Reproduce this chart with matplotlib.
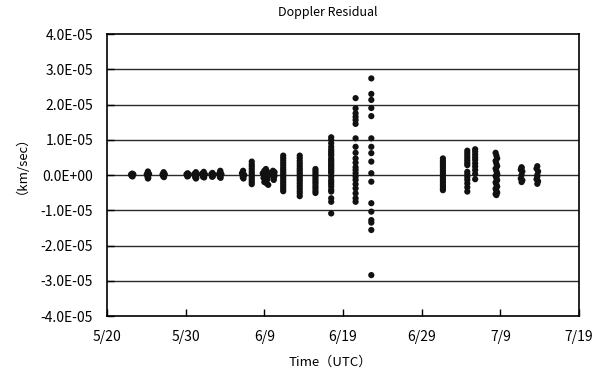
import matplotlib
matplotlib.use("Agg")
import matplotlib.pyplot as plt
from matplotlib.ticker import FuncFormatter

plt.rcParams['font.family'] = ['Noto Sans CJK JP', 'DejaVu Sans']

# x: days since 5/20 (UTC); y: residual in units of 1e-5 km/sec
x_tick_days = [0, 10, 20, 30, 40, 50, 60]
x_tick_labels = ["5/20", "5/30", "6/9", "6/19", "6/29", "7/9", "7/19"]
y_ticks = [-4e-5, -3e-5, -2e-5, -1e-5, 0.0, 1e-5, 2e-5, 3e-5, 4e-5]

p01_t = [3.05, 3.15, 3.2, 3.25, 3.35, 3.2]
p01_v = [0.01, -0.03, 0.04, -0.04, 0.02, 0.0]
p02_t = [5.05, 5.15, 5.2, 5.25, 5.35, 5.2, 5.2]
p02_v = [0.02, -0.05, 0.07, -0.08, 0.03, 0.1, -0.1]
p03_t = [7.05, 7.15, 7.2, 7.25, 7.35, 7.2]
p03_v = [0.01, -0.04, 0.06, -0.06, 0.02, 0.08]
p04_t = [10.1, 10.2, 10.25, 10.3, 10.4]
p04_v = [0.02, -0.04, 0.05, -0.03, 0.01]
p05_t = [11.1, 11.2, 11.3, 11.35, 11.45, 11.3]
p05_v = [0.03, -0.06, 0.08, -0.08, 0.02, -0.1]
p06_t = [12.1, 12.2, 12.3, 12.35, 12.45, 12.3]
p06_v = [0.04, -0.05, 0.09, -0.07, 0.02, 0.0]
p07_t = [13.25, 13.35, 13.4, 13.45, 13.55]
p07_v = [0.02, -0.05, 0.06, -0.04, 0.01]
p08_t = [14.25, 14.35, 14.4, 14.45, 14.55, 14.4]
p08_v = [0.03, -0.06, 0.09, -0.08, 0.02, 0.12]
p09_t = [17.15, 17.25, 17.3, 17.35, 17.45, 17.3]
p09_v = [0.05, -0.06, 0.12, -0.1, 0.0, -0.02]
p10_t = [18.4, 18.4, 18.4, 18.4, 18.4, 18.4, 18.4, 18.4, 18.4, 18.4, 18.4]
p10_v = [0.38, 0.3, 0.24, 0.17, 0.1, 0.04, -0.02, -0.08, -0.14, -0.2, -0.26]
p11_t = [19.8, 19.9, 20.0, 20.1, 20.2, 20.3, 20.4, 20.5, 20.2, 20.1, 20.3, 20.4, 20.6, 20.0]
p11_v = [0.05, -0.08, 0.12, -0.18, 0.17, -0.24, 0.08, -0.28, -0.02, 0.06, 0.1, -0.12, 0.0, -0.2]
p12_t = [21.1, 21.2, 21.3, 21.2, 21.3, 21.2, 21.1]
p12_v = [0.12, 0.05, -0.02, -0.08, 0.08, -0.14, 0.0]
p13_t = [22.4] * 17
p13_v = [0.55, 0.48, 0.41, 0.34, 0.27, 0.2, 0.14, 0.08, 0.02, -0.04, -0.1, -0.16, -0.22, -0.28, -0.34, -0.4, -0.46]
p14_t = [24.5] * 18
p14_v = [0.55, 0.48, 0.4, 0.33, 0.26, 0.19, 0.13, 0.07, 0.01, -0.05, -0.11, -0.17, -0.24, -0.31, -0.38, -0.45, -0.52, -0.6]
p15_t = [26.5] * 12
p15_v = [0.17, 0.11, 0.05, -0.01, -0.07, -0.13, -0.19, -0.25, -0.32, -0.38, -0.45, -0.51]
p16_t = [28.5] * 28
p16_v = [1.07, 1.0, 0.9, 0.8, 0.72, 0.66, 0.6, 0.55, 0.47, 0.42, 0.38, 0.33, 0.28, 0.24,
         0.19, 0.14, 0.1, 0.05, -0.05, -0.14, -0.2, -0.26, -0.33, -0.42, -0.47, -0.66, -0.76, -1.09]
p17_t = [31.6] * 21
p17_v = [2.18, 1.89, 1.75, 1.65, 1.56, 1.45, 1.04, 0.8, 0.63, 0.47, 0.35, 0.22, 0.14, 0.05,
         -0.05, -0.14, -0.26, -0.38, -0.52, -0.66, -0.76]
p18_t = [33.6] * 17
p18_v = [2.74, 2.3, 2.13, 1.9, 1.67, 1.04, 0.8, 0.62, 0.38, 0.05, -0.19, -0.8, -1.04, -1.28, -1.35, -1.56, -2.84]
p19_t = [42.7] * 16
p19_v = [0.47, 0.4, 0.34, 0.28, 0.22, 0.16, 0.1, 0.04, -0.02, -0.08, -0.14, -0.2, -0.26, -0.32, -0.38, -0.43]
p20_t = [45.8] * 14
p20_v = [0.69, 0.62, 0.55, 0.48, 0.41, 0.34, 0.28, 0.09, 0.02, -0.06, -0.14, -0.24, -0.35, -0.47]
p21_t = [46.8] * 10
p21_v = [0.73, 0.66, 0.58, 0.5, 0.43, 0.33, 0.24, 0.14, 0.03, -0.12]
p22_t = [49.4, 49.5, 49.6] * 7
p22_v = [0.63, 0.55, 0.47, 0.4, 0.32, 0.25, 0.18, 0.11, 0.04, -0.03, -0.09, -0.15, -0.21,
         -0.27, -0.33, -0.39, -0.45, -0.5, -0.54, -0.57, 0.0]
p23_t = [52.6, 52.7, 52.8, 52.6, 52.7, 52.8, 52.7, 52.7]
p23_v = [0.15, 0.2, 0.1, -0.1, -0.2, -0.15, 0.0, 0.22]
p24_t = [54.6, 54.7, 54.8, 54.6, 54.7, 54.8, 54.7, 54.7]
p24_v = [0.18, 0.25, 0.1, -0.12, -0.25, -0.18, 0.0, -0.05]

passes = [(p01_t, p01_v), (p02_t, p02_v), (p03_t, p03_v), (p04_t, p04_v), (p05_t, p05_v),
          (p06_t, p06_v), (p07_t, p07_v), (p08_t, p08_v), (p09_t, p09_v), (p10_t, p10_v),
          (p11_t, p11_v), (p12_t, p12_v), (p13_t, p13_v), (p14_t, p14_v), (p15_t, p15_v),
          (p16_t, p16_v), (p17_t, p17_v), (p18_t, p18_v), (p19_t, p19_v), (p20_t, p20_v),
          (p21_t, p21_v), (p22_t, p22_v), (p23_t, p23_v), (p24_t, p24_v)]

fig = plt.figure(figsize=(6.13, 3.76), dpi=100)
ax = fig.add_axes([107 / 613, 60 / 376, 472 / 613, 282 / 376])

for y in y_ticks[1:-1]:
    ax.axhline(y, color='#2a2a2a', linewidth=1.0, zorder=1)

for t, v in passes:
    ax.scatter(t, [val * 1e-5 for val in v], s=20, color='#111111', edgecolors='none', zorder=3)

ax.set_xlim(0, 60)
ax.set_ylim(-4e-5, 4e-5)
ax.set_xticks(x_tick_days)
ax.set_xticklabels(x_tick_labels)
ax.set_yticks(y_ticks)
ax.yaxis.set_major_formatter(FuncFormatter(lambda v, p: "{:.1E}".format(v if abs(v) > 1e-12 else 0.0)))
ax.tick_params(axis='both', direction='in', length=5, width=1, labelsize=10, colors='black')
ax.tick_params(axis='x', pad=10)
ax.tick_params(axis='y', pad=10)
for s in ax.spines.values():
    s.set_linewidth(1.2)
    s.set_color('black')

fig.text(0.535, 0.967, "Doppler Residual", ha='center', va='center', fontsize=9)
fig.text(330 / 613, (376 - 362) / 376, "Time（UTC）", ha='center', va='center', fontsize=9.5)
fig.text(15 / 613, (376 - 158) / 376, "（km/sec）", rotation=90, ha='center', va='center', fontsize=9.5)

fig.savefig("out.png", dpi=100)
